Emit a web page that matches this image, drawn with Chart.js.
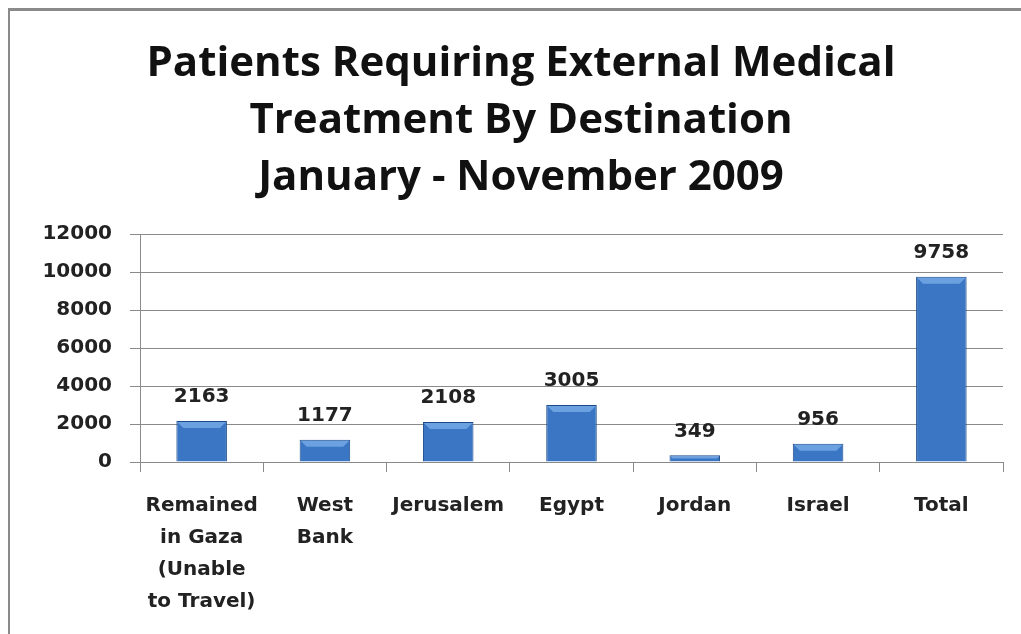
<!DOCTYPE html>
<html>
<head>
<meta charset="utf-8">
<script src="https://cdn.jsdelivr.net/npm/chart.js@4"></script>
<style>
  html, body { margin: 0; padding: 0; background: #fff; }
  #wrap { position: relative; width: 1021px; height: 634px; }
  #frame {
    position: absolute; left: 8px; top: 8px; right: -4px; bottom: -4px;
    border-top: 3px solid #8a8a8a; border-left: 2px solid #8a8a8a;
  }
  canvas { position: absolute; left: 0; top: 0; }
</style>
</head>
<body>
<div id="wrap">
  <div id="frame"></div>
  <canvas id="chart" width="1021" height="634"></canvas>
</div>
<script>
const categories = [
  ["Remained", "in Gaza", "(Unable", "to Travel)"],
  ["West", "Bank"],
  ["Jerusalem"],
  ["Egypt"],
  ["Jordan"],
  ["Israel"],
  ["Total"]
];
const patients = [2163, 1177, 2108, 3005, 349, 956, 9758];
const titleLines = [
  "Patients Requiring External Medical",
  "Treatment By Destination",
  "January - November 2009"
];
const yTicks = [0, 2000, 4000, 6000, 8000, 10000, 12000];

const TITLE_FONT = "'Open Sans', Lato, sans-serif";
const FONT = "'DejaVu Sans', 'Open Sans', sans-serif";

const barFill = (context) => {
  const chart = context.chart;
  const el = context.element;
  if (!el || el.width === undefined || isNaN(el.x)) return "#3a76c4";
  const half = el.width / 2;
  const g = chart.ctx.createLinearGradient(el.x - half, 0, el.x + half, 0);
  g.addColorStop(0, "#1d4b8c");
  g.addColorStop(0.14, "#3470bf");
  g.addColorStop(0.5, "#4785d6");
  g.addColorStop(0.86, "#3470bf");
  g.addColorStop(1, "#1d4b8c");
  return g;
};

const valueLabels = {
  id: "valueLabels",
  afterDatasetsDraw(chart) {
    const ctx = chart.ctx;
    const meta = chart.getDatasetMeta(0);
    ctx.save();
    meta.data.forEach((bar, i) => {
      // top bevel highlight
      const half = bar.width / 2;
      const bev = Math.min(7, (bar.base - bar.y) / 2);
      ctx.fillStyle = "rgba(140,190,245,0.6)";
      ctx.beginPath();
      ctx.moveTo(bar.x - half + 1, bar.y + 1);
      ctx.lineTo(bar.x + half - 1, bar.y + 1);
      ctx.lineTo(bar.x + half - bev, bar.y + bev);
      ctx.lineTo(bar.x - half + bev, bar.y + bev);
      ctx.closePath();
      ctx.fill();
      ctx.font = "bold 20px " + FONT;
      ctx.fillStyle = "#222";
      ctx.textAlign = "center";
      ctx.textBaseline = "bottom";
      ctx.fillText(String(patients[i]), bar.x, bar.y - 14);
    });
    ctx.restore();
  }
};

new Chart(document.getElementById("chart").getContext("2d"), {
  type: "bar",
  data: {
    labels: categories,
    datasets: [{
      data: patients,
      backgroundColor: barFill,
      borderColor: "#1b4a88",
      borderWidth: 1,
      barPercentage: 0.41,
      categoryPercentage: 1.0
    }]
  },
  options: {
    responsive: false,
    animation: false,
    devicePixelRatio: 1,
    layout: { padding: { top: 0, right: 18, bottom: 0, left: 39 } },
    plugins: {
      legend: { display: false },
      tooltip: { enabled: false },
      title: {
        display: true,
        text: titleLines,
        color: "#111",
        font: { family: TITLE_FONT, size: 42, weight: "bold", lineHeight: 1.35 },
        padding: { top: 36, bottom: 28 }
      }
    },
    scales: {
      y: {
        min: 0,
        max: 12000,
        afterBuildTicks: (scale) => { scale.ticks = yTicks.map(v => ({ value: v })); },
        afterFit: (scale) => { scale.width = 101; },
        border: { display: true, color: "#8a8a8a", width: 1 },
        grid: { color: "#8a8a8a", lineWidth: 1, tickLength: 10 },
        ticks: {
          color: "#222",
          padding: 18,
          callback: (v) => String(v),
          font: { family: FONT, size: 20, weight: "bold" }
        }
      },
      x: {
        afterFit: (scale) => { scale.height = 172; },
        border: { display: true, color: "#8a8a8a", width: 1 },
        grid: { display: true, drawOnChartArea: false, offset: true, color: "#8a8a8a", tickLength: 10 },
        ticks: {
          color: "#222",
          padding: 18,
          maxRotation: 0,
          autoSkip: false,
          font: { family: FONT, size: 20, weight: "bold", lineHeight: 1.6 }
        }
      }
    }
  },
  plugins: [valueLabels]
});
</script>
</body>
</html>
